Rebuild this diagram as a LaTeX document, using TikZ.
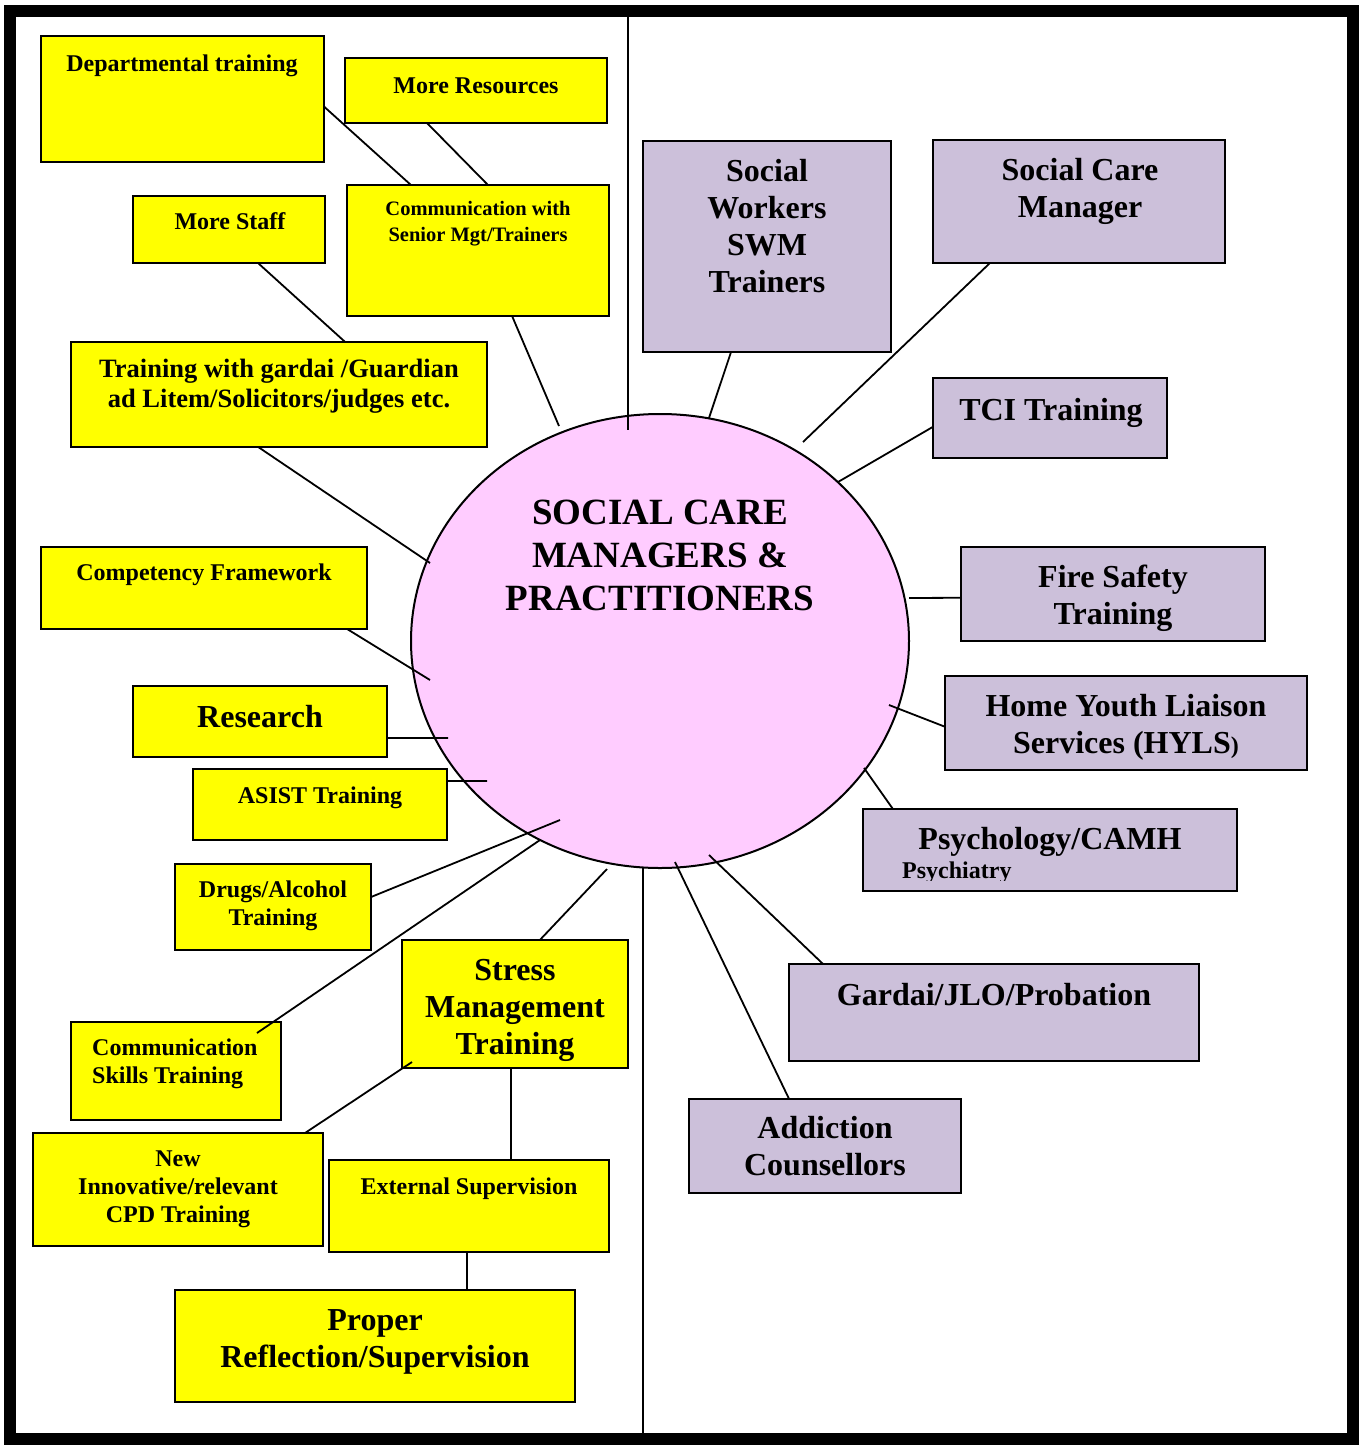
\documentclass[tikz,border=0pt]{standalone}
\usepackage{fontspec}
\setmainfont{Liberation Serif}
\usetikzlibrary{shapes.geometric,calc}

\definecolor{boxyellow}{HTML}{FFFF00}
\definecolor{boxlilac}{HTML}{CCC0DA}
\definecolor{hubpink}{HTML}{FFCCFF}

% stacked lines, first baseline is the node baseline
\newcommand\tabbox[1]{\begin{tabular}[t]{@{}c@{}}#1\end{tabular}}
\newcommand\tabboxl[1]{\begin{tabular}[t]{@{}l@{}}#1\end{tabular}}

% rectangle node from its left, top, right and bottom edges
\newcommand\panel[6]{%
  \node[#6, minimum width={#4-#2}, minimum height={#5-#3}] (#1) at ({(#2+#4)/2},{(#3+#5)/2}) {};}

\tikzset{
  panelbase/.style={draw=black, line width=2pt, rectangle, inner sep=0pt, outer sep=0pt},
  ypanel/.style={panelbase, fill=boxyellow},
  lpanel/.style={panelbase, fill=boxlilac},
  hubshape/.style={ellipse, draw=black, line width=2pt, fill=hubpink,
    minimum width=498pt, minimum height=454pt, inner sep=0pt, outer sep=0pt},
  txtS/.style={inner sep=0pt, anchor=base, font=\bfseries\fontsize{24}{28}\selectfont},
  txtL/.style={inner sep=0pt, anchor=base, font=\bfseries\fontsize{32}{37}\selectfont},
  txtC/.style={inner sep=0pt, anchor=base, font=\bfseries\fontsize{20.5}{26}\selectfont},
  txtG/.style={inner sep=0pt, anchor=base, font=\bfseries\fontsize{26.5}{30}\selectfont},
  txtH/.style={inner sep=0pt, anchor=base, font=\bfseries\fontsize{37}{43}\selectfont},
  link/.style={draw=black, line width=1.8pt},
}

\begin{document}
\begin{tikzpicture}[x=1pt, y=-1pt]
\useasboundingbox (0,0) rectangle (1359,1445);

% central ellipse
\node[hubshape] (hub) at (660,641) {};

% outer frame (drawn last, defined here for the divider ends)
\path node[draw=none, minimum width=1343pt, minimum height=1428pt, inner sep=0pt, outer sep=0pt] (frame) at (681.5,725) {};

% points on or inside the ellipse where the links end
\coordinate (h-divtop) at ($(hub.center)+(-32,-211)$);
\coordinate (h-divbot) at ($(hub.center)+(-17,227)$);
\coordinate (h-comm)   at ($(hub.center)+(-101,-215)$);
\coordinate (h-gard)   at ($(hub.center)+(-230,-78)$);
\coordinate (h-comp)   at ($(hub.center)+(-230,39)$);
\coordinate (h-res)    at ($(hub.center)+(-212,97)$);
\coordinate (h-asist)  at ($(hub.center)+(-173,140)$);
\coordinate (h-drugs)  at ($(hub.center)+(-100,179)$);
\coordinate (h-cskill) at ($(hub.center)+(-120,199)$);
\coordinate (h-stress) at ($(hub.center)+(-53,228)$);
\coordinate (h-sw)     at ($(hub.center)+(49,-223)$);
\coordinate (h-scm)    at ($(hub.center)+(143,-199)$);
\coordinate (h-tci)    at ($(hub.center)+(178,-159)$);
\coordinate (h-fire)   at ($(hub.center)+(249,-43)$);
\coordinate (h-hyls)   at ($(hub.center)+(229,64)$);
\coordinate (h-psych)  at ($(hub.center)+(204,127)$);
\coordinate (h-gardai) at ($(hub.center)+(49,214)$);
\coordinate (h-addict) at ($(hub.center)+(15,221)$);

% vertical divider, above and below the ellipse
\draw[link] (h-divtop |- frame.north) -- (h-divtop);
\draw[link] (h-divbot) -- (h-divbot |- frame.south);

% yellow boxes
\panel{dept}{41}{36}{324}{162}{ypanel}
\panel{moreres}{345}{58}{607}{123}{ypanel}
\panel{comm}{347}{185}{609}{316}{ypanel}
\panel{staff}{133}{196}{325}{263}{ypanel}
\panel{gard}{71}{342}{487}{447}{ypanel}
\panel{comp}{41}{547}{367}{629}{ypanel}
\panel{research}{133}{686}{387}{757}{ypanel}
\panel{asist}{193}{769}{447}{840}{ypanel}
\panel{drugs}{175}{864}{371}{950}{ypanel}
\panel{stress}{402}{940}{628}{1068}{ypanel}
\panel{cskills}{71}{1022}{281}{1120}{ypanel}
\panel{newinn}{33}{1133}{323}{1246}{ypanel}
\panel{ext}{329}{1160}{609}{1252}{ypanel}
\panel{proper}{175}{1290}{575}{1402}{ypanel}

% lilac boxes
\panel{sw}{643}{141}{891}{352}{lpanel}
\panel{scm}{933}{140}{1225}{263}{lpanel}
\panel{tci}{933}{378}{1167}{458}{lpanel}
\panel{fire}{961}{547}{1265}{641}{lpanel}
\panel{hyls}{945}{676}{1307}{770}{lpanel}
\panel{psych}{863}{809}{1237}{891}{lpanel}
\panel{gardai}{789}{964}{1199}{1061}{lpanel}
\panel{addict}{689}{1099}{961}{1193}{lpanel}

% links on the left
\draw[link] ($(dept.north east)!0.56!(dept.south east)$) -- ($(comm.north west)!0.244!(comm.north east)$);
\draw[link] ($(moreres.south west)!0.313!(moreres.south east)$) -- ($(comm.north west)!0.538!(comm.north east)$);
\draw[link] ($(staff.south west)!0.651!(staff.south east)$) -- ($(gard.north west)!0.659!(gard.north east)$);
\draw[link] ($(comm.south west)!0.63!(comm.south east)$) -- (h-comm);
\draw[link] ($(gard.south west)!0.45!(gard.south east)$) -- (h-gard);
\draw[link] ($(comp.south west)!0.939!(comp.south east)$) -- (h-comp);
\draw[link] ($(research.north east)!0.732!(research.south east)$) -- (h-res);
\draw[link] ($(asist.north east)!0.169!(asist.south east)$) -- (h-asist);
\draw[link] ($(drugs.north east)!0.384!(drugs.south east)$) -- (h-drugs);
\draw[link] ([shift={(186,11)}]cskills.north west) -- (h-cskill);
\draw[link] ($(stress.north west)!0.61!(stress.north east)$) -- (h-stress);
\draw[link] ($(stress.south west)!0.482!(stress.south east)$) -- ($(ext.north west)!0.65!(ext.north east)$);
\draw[link] ($(newinn.north west)!0.938!(newinn.north east)$) -- ([shift={(10,-6)}]stress.south west);
\draw[link] ($(ext.south west)!0.493!(ext.south east)$) -- ($(proper.north west)!0.73!(proper.north east)$);

% links on the right
\draw[link] ($(sw.south west)!0.355!(sw.south east)$) -- (h-sw);
\draw[link] ($(scm.south west)!0.195!(scm.south east)$) -- (h-scm);
\draw[link] ($(tci.north west)!0.61!(tci.south west)$) -- (h-tci);
\draw[link] ($(fire.north west)!0.54!(fire.south west)$) -- (h-fire);
\draw[link] ($(hyls.north west)!0.54!(hyls.south west)$) -- (h-hyls);
\draw[link] ($(psych.north west)!0.08!(psych.north east)$) -- (h-psych);
\draw[link] ($(gardai.north west)!0.083!(gardai.north east)$) -- (h-gardai);
\draw[link] ($(addict.north west)!0.368!(addict.north east)$) -- (h-addict);

% central title
\node[txtH] (hub-t) at (660,524) {\tabbox{SOCIAL CARE\\MANAGERS \&\\PRACTITIONERS}};

% yellow box texts
\node[txtS] (dept-t) at (182,71) {Departmental training};
\node[txtS] (moreres-t) at (476,93) {More Resources};
\node[txtC] (comm-t) at (478,215) {\tabbox{Communication with\\Senior Mgt/Trainers}};
\node[txtS] (staff-t) at (230,229) {More Staff};
\node[txtG] (gard-t) at (279,377) {\tabbox{Training with gardai /Guardian\\ad Litem/Solicitors/judges etc.}};
\node[txtS] (comp-t) at (204,580) {Competency Framework};
\node[txtL] (research-t) at (260,727) {Research};
\node[txtS] (asist-t) at (320,803) {ASIST Training};
\node[txtS] (drugs-t) at (273,897) {\tabbox{Drugs/Alcohol\\Training}};
\node[txtL] (stress-t) at (515,980) {\tabbox{Stress\\Management\\Training}};
\node[txtS, anchor=base west] (cskills-t) at (92,1055) {\tabboxl{Communication\\Skills Training}};
\node[txtS] (newinn-t) at (178,1166) {\tabbox{New\\Innovative/relevant\\CPD Training}};
\node[txtS] (ext-t) at (469,1194) {External Supervision};
\node[txtL] (proper-t) at (375,1330) {\tabbox{Proper\\Reflection/Supervision}};

% lilac box texts
\node[txtL] (sw-t) at (767,181) {\tabbox{Social\\Workers\\SWM\\Trainers}};
\node[txtL] (scm-t) at (1080,180) {\tabbox{Social Care\\Manager}};
\node[txtL] (tci-t) at (1051,420) {TCI Training};
\node[txtL] (fire-t) at (1113,587) {\tabbox{Fire Safety\\Training}};
\node[txtL] (hyls-t) at (1126,716) {\tabbox{Home Youth Liaison\\Services (HYLS{\fontsize{24}{28}\selectfont)}}};
\node[txtL] (psych-t) at (1050,849) {Psychology/CAMH};
\begin{scope}
  % the second line is cut off just under its baseline
  \clip ($(psych.south west)+(0,-11)$) rectangle (psych.north east);
  \node[txtS, anchor=base west] (psych-sub) at (902,878) {Psychiatry};
\end{scope}
\node[txtL] (gardai-t) at (994,1005) {Gardai/JLO/Probation};
\node[txtL] (addict-t) at (825,1138) {\tabbox{Addiction\\Counsellors}};

% thick outer frame
\draw[line width=12pt] (frame.north west) rectangle (frame.south east);
\end{tikzpicture}
\end{document}
